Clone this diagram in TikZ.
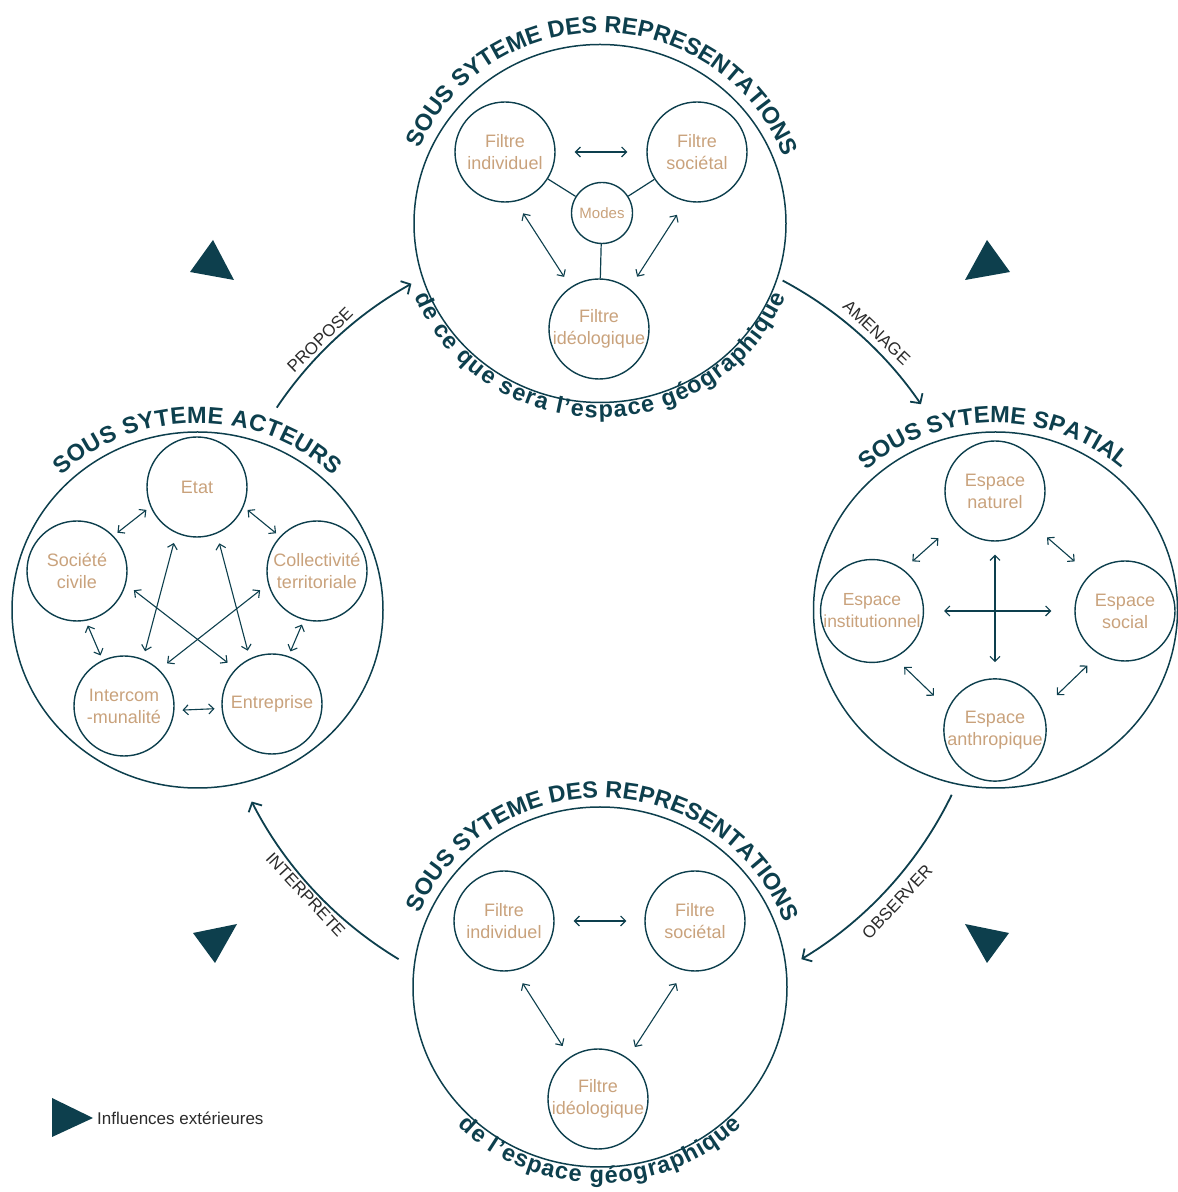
\documentclass[tikz,border=0pt]{standalone}
\usepackage{fontspec}
\setmainfont{Liberation Sans}
\usetikzlibrary{shapes.geometric,arrows.meta,decorations.text}
\definecolor{ink}{HTML}{0D3F4D}
\definecolor{sable}{HTML}{C9A27C}
\definecolor{verbecol}{HTML}{2B2B2B}
\newcommand\ttlfont{\bfseries\fontsize{23.5}{28}\selectfont}
\newcommand\subfont{\bfseries\fontsize{23.5}{28}\selectfont}

\begin{document}
\begin{tikzpicture}
[x=1pt,y=1pt,
 systeme/.style={ellipse,draw=ink,line width=1.5pt,inner sep=0pt,minimum width=372pt,minimum height=358pt},
 filtre/.style={circle,draw=ink,line width=1.4pt,minimum size=100pt,inner sep=0pt,text=sable,align=center,font=\fontsize{18}{22}\selectfont},
 lien/.style={draw=ink,line width=1.1pt,{Straight Barb[length=5pt,width=10pt]}-{Straight Barb[length=5pt,width=10pt]},shorten <=5pt,shorten >=5pt},
 trait/.style={draw=ink,line width=1.2pt},
 flux/.style={draw=ink,line width=1.8pt,-{Straight Barb[length=7pt,width=15pt]}},
 verbe/.style={text=verbecol,font=\fontsize{17}{20}\selectfont,inner sep=0pt},
 titre/.style={decorate,decoration={text along path,text align=fit to path,text color=ink,text={#1}}}]
\useasboundingbox (0,0) rectangle (1178,1192);

% sous systeme des representations (haut)
\node[systeme] (repH) at (600,968.5) {};
\node[filtre] (hIndiv) at (505,1040) {Filtre\\individuel};
\node[filtre] (hSoc) at (697,1040) {Filtre\\sociétal};
\node[filtre,minimum size=61pt,font=\fontsize{15}{18}\selectfont] (hModes) at (602,979) {Modes};
\node[filtre] (hIdeo) at (599,863) {Filtre\\idéologique};
\draw[trait] (hModes) -- (hIndiv);
\draw[trait] (hModes) -- (hSoc);
\draw[trait] (hModes) -- (hIdeo);
\draw[lien,shorten <=19pt,shorten >=19pt] (hIndiv) -- (hSoc);
\draw[lien,shorten <=14pt,shorten >=12pt] (hIndiv.282) -- (hIdeo.124);
\draw[lien,shorten <=16pt,shorten >=14pt] (hSoc.257) -- (hIdeo.53);
\path[titre={|\ttlfont|SOUS SYTEME DES REPRESENTATIONS}] ([shift={(157:196 and 191)}]repH.center) arc[start angle=157,end angle=21,x radius=196,y radius=191];
\path[titre={|\subfont|de ce que sera l’espace géographique}] ([shift={(202:200 and 194)}]repH.center) arc[start angle=202,end angle=338,x radius=200,y radius=194];

% sous systeme acteurs
\node[systeme,minimum width=371pt,minimum height=356pt] (acteurs) at (197.5,582) {};
\node[filtre] (etat) at (197,705) {Etat};
\node[filtre] (societe) at (77,621) {Société\\civile};
\node[filtre] (collect) at (317,621) {Collectivité\\territoriale};
\node[filtre] (intercom) at (124,486) {Intercom\\-munalité};
\node[filtre] (entreprise) at (272,488) {Entreprise};
\draw[lien] (societe.44) -- (etat.203);
\draw[lien] (etat.337) -- (collect.137);
\draw[lien] (societe.280) -- (intercom.115);
\draw[lien] (collect.255) -- (entreprise.71);
\draw[lien,shorten <=8pt,shorten >=7pt] (intercom.355) -- (entreprise.185);
\draw[lien,shorten <=10pt,shorten >=8pt] (etat.246) -- (intercom.68);
\draw[lien,shorten <=10pt,shorten >=8pt] (etat.293) -- (entreprise.116);
\draw[lien,shorten <=10pt,shorten >=10pt] (societe.345) -- (entreprise.136);
\draw[lien,shorten <=10pt,shorten >=10pt] (collect.195) -- (intercom.46);
\path[titre={|\ttlfont|SOUS SYTEME ACTEURS}] ([shift={(134:196 and 187)}]acteurs.center) arc[start angle=134,end angle=46,x radius=196,y radius=187];

% sous systeme spatial
\node[systeme,minimum width=364pt,minimum height=356pt] (spatial) at (995.5,582) {};
\node[filtre] (naturel) at (995,701) {Espace\\naturel};
\node[filtre,font=\fontsize{17.5}{22}\selectfont] (institution) at (872,581) {Espace\\institutionnel};
\node[filtre] (social) at (1125,581) {Espace\\social};
\node[filtre] (anthropique) at (995,462) {Espace\\anthropique};
\draw[lien,shorten <=12pt,shorten >=23pt] (institution.53) -- (naturel.219);
\draw[lien,shorten <=19pt,shorten >=20pt] (naturel.318) -- (social.134);
\draw[lien,shorten <=13pt,shorten >=19pt] (institution.296) -- (anthropique.156);
\draw[lien,shorten <=16pt,shorten >=20pt] (social.239) -- (anthropique.24);
\draw[lien,shorten <=20pt,shorten >=23pt] (institution) -- (social);
\draw[lien,shorten <=13pt,shorten >=16pt] (naturel) -- (anthropique);
\path[titre={|\ttlfont|SOUS SYTEME SPATIAL}] ([shift={(132:193 and 187)}]spatial.center) arc[start angle=132,end angle=49,x radius=193,y radius=187];

% sous systeme des representations (bas)
\node[systeme,minimum width=374pt,minimum height=360pt] (repB) at (600,205) {};
\node[filtre] (bIndiv) at (504,271) {Filtre\\individuel};
\node[filtre] (bSoc) at (695,271) {Filtre\\sociétal};
\node[filtre] (bIdeo) at (598,93) {Filtre\\idéologique};
\draw[lien,shorten <=19pt,shorten >=18pt] (bIndiv) -- (bSoc);
\draw[lien,shorten <=15pt,shorten >=13pt] (bIndiv.282) -- (bIdeo.124);
\draw[lien,shorten <=15pt,shorten >=13pt] (bSoc.258) -- (bIdeo.54);
\path[titre={|\ttlfont|SOUS SYTEME DES REPRESENTATIONS}] ([shift={(157:196 and 189)}]repB.center) arc[start angle=157,end angle=21,x radius=196,y radius=189];
\path[titre={|\subfont|de l’espace géographique}] ([shift={(225:201 and 196)}]repB.center) arc[start angle=225,end angle=315,x radius=201,y radius=196];

% cycle
\coordinate (hub) at (600,568);
\coordinate (proposeA) at ([shift={(146.2:389)}]hub);
\coordinate (amenageA) at ([shift={(62:389)}]hub);
\coordinate (observerA) at ([shift={(-25.9:391)}]hub);
\coordinate (interpreteA) at ([shift={(-121:391)}]hub);
\draw[flux] (proposeA) arc[start angle=146.2,end angle=119,radius=389];
\draw[flux] (amenageA) arc[start angle=62,end angle=34.4,radius=389];
\draw[flux] (observerA) arc[start angle=-25.9,end angle=-59,radius=391];
\draw[flux] (interpreteA) arc[start angle=-121,end angle=-153,radius=391];
\node[verbe,rotate=44.6] (propose) at ([shift={(134.6:399)}]hub) {PROPOSE};
\node[verbe,rotate=-43.5] (amenage) at ([shift={(46.5:402)}]hub) {AMENAGE};
\node[verbe,rotate=46.9] (observer) at ([shift={(-43.1:407)}]hub) {OBSERVER};
\node[verbe,rotate=-47.4] (interprete) at ([shift={(222.6:400)}]hub) {INTERPRETE};

% influences exterieures
\fill[ink] (213,952) -- (190,920) -- (234,912) -- cycle;
\fill[ink] (987,952) -- (965,912) -- (1010,920) -- cycle;
\fill[ink] (193,259) -- (237,268) -- (215,229) -- cycle;
\fill[ink] (965,268) -- (1009,259) -- (987,229) -- cycle;
\fill[ink] (52,94) -- (93,74) -- (52,55) -- cycle;
\node[verbe,anchor=west] (legende) at (97,74) {Influences extérieures};
\end{tikzpicture}
\end{document}
